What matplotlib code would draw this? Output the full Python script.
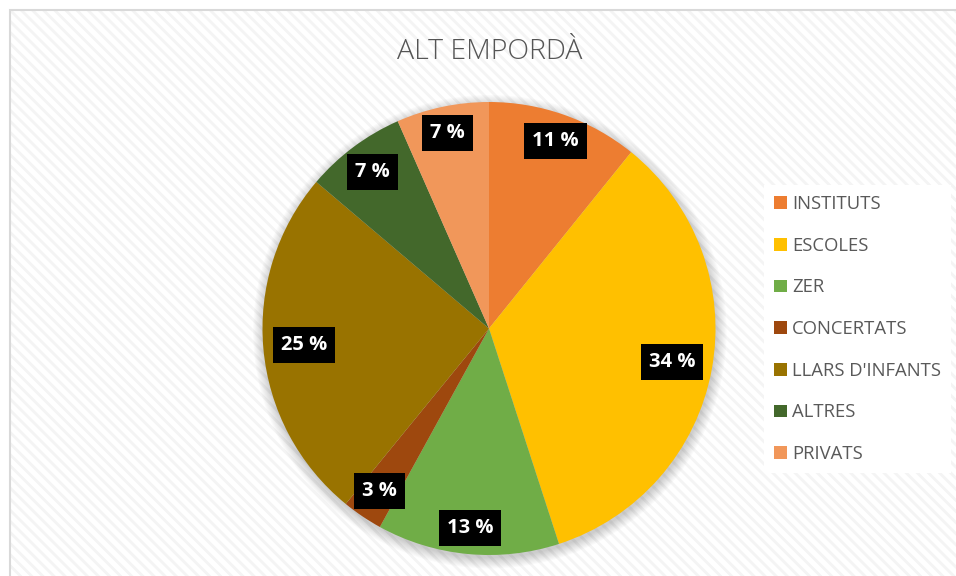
import matplotlib
matplotlib.use("Agg")
import numpy as np
import matplotlib.pyplot as plt
from matplotlib.patches import Rectangle, Circle

# Data
categories = ["INSTITUTS", "ESCOLES", "ZER", "CONCERTATS", "LLARS D'INFANTS", "ALTRES", "PRIVATS"]
values = [10.8, 34.2, 13.0, 2.9, 25.3, 7.2, 6.6]
colors = ["#ED7D31", "#FFC000", "#70AD47", "#9E480E", "#997300", "#43682B", "#F1975A"]
title = "ALT EMPORDÀ"

plt.rcParams['font.family'] = ['Open Sans', 'DejaVu Sans']
plt.rcParams['hatch.linewidth'] = 2.0

W, H = 956, 576
fig = plt.figure(figsize=(W / 100, H / 100), dpi=100)
fig.patch.set_facecolor('white')

# chart area background with subtle diagonal stripes and border
bg = Rectangle((10 / W, -0.05), 1.0, 1 - 10 / H + 0.05, transform=fig.transFigure,
               facecolor='white', edgecolor='#f4f4f4', hatch='\\\\\\', linewidth=0, zorder=0)
fig.patches.append(bg)
bg_edge = Rectangle((10 / W, -0.05), 1.0, 1 - 10 / H + 0.05, transform=fig.transFigure,
                    facecolor='none', edgecolor='#d9d9d9', linewidth=1.5, zorder=0.1)
fig.patches.append(bg_edge)

cx, cy, r = 489, 576 - 328.5, 226.5
ax = fig.add_axes([(cx - r) / W, (cy - r) / H, 2 * r / W, 2 * r / H])
ax.set_zorder(2)
ax.set_facecolor('none')

# soft shadow
for k in range(10):
    ax.add_patch(Circle((0.004, -0.014), 1.0 + 0.005 * k, facecolor='#000000', alpha=0.02,
                        edgecolor='none', clip_on=False, zorder=0))

wedges, texts, autotexts = ax.pie(values, colors=colors, startangle=90, counterclock=False,
                                  autopct='%1.0f %%', pctdistance=0.85, radius=1.0,
                                  wedgeprops=dict(linewidth=0),
                                  textprops=dict(color='white', fontweight='bold', fontsize=14.5))
# best-fit style placement: labels sit closer to centre at the sides (wide boxes)
for w, t in zip(wedges, autotexts):
    ang = np.deg2rad((w.theta1 + w.theta2) / 2)
    d = 0.885 - 0.065 * np.cos(ang) ** 2
    t.set_position((d * np.cos(ang), d * np.sin(ang)))
    t.set_bbox(dict(facecolor='black', edgecolor='none', boxstyle='square,pad=0.4'))
ax.set_xlim(-1, 1)
ax.set_ylim(-1, 1)
ax.set_aspect('equal')
ax.axis('off')

fig.text(489.5 / W, 1 - 52 / H, title, ha='center', va='center', fontsize=20.5,
         color='#555555', fontweight='light', zorder=3)

leg = fig.legend(wedges, categories, loc='upper left',
                 bbox_to_anchor=(764 / W, 1 - 185 / H), frameon=True,
                 fontsize=13.3, labelcolor='#595959', handlelength=0.68, handleheight=0.68,
                 handletextpad=0.3, labelspacing=1.28, borderpad=0.55, borderaxespad=0)
leg.set_zorder(3)
leg.get_frame().set_facecolor('white')
leg.get_frame().set_edgecolor('none')
leg.get_frame().set_boxstyle('square', pad=0)
leg.get_frame().set_alpha(1)

fig.savefig('out.png', dpi=100, facecolor='white')
